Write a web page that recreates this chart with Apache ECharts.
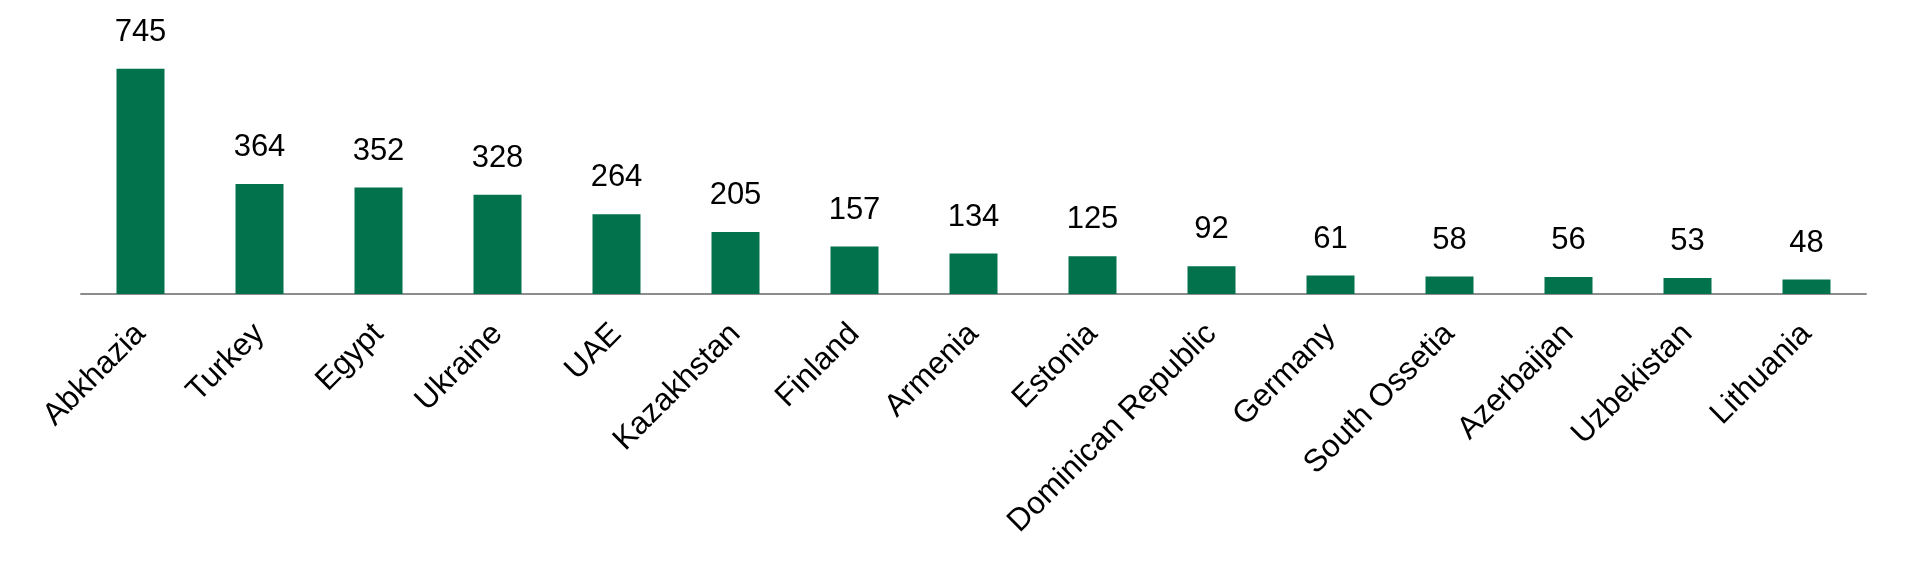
<!DOCTYPE html>
<html>
<head>
<meta charset="utf-8">
<script src="https://cdn.jsdelivr.net/npm/echarts@6/dist/echarts.min.js"></script>
<style>
html,body{margin:0;padding:0;background:#fff;}
#chart{width:1918px;height:570px;}
</style>
</head>
<body>
<div id="chart"></div>
<script>
const categories = ["Abkhazia","Turkey","Egypt","Ukraine","UAE","Kazakhstan","Finland","Armenia","Estonia","Dominican Republic","Germany","South Ossetia","Azerbaijan","Uzbekistan","Lithuania"];
const values = [745,364,352,328,264,205,157,134,125,92,61,58,56,53,48];

const chart = echarts.init(document.getElementById('chart'), null, {renderer:'canvas'});
chart.setOption({
  animation: false,
  backgroundColor: '#ffffff',
  grid: {left: 81, right: 52, top: 52, bottom: 276, containLabel: false},
  xAxis: {
    type: 'category',
    data: categories,
    axisLine: {show: true, lineStyle: {color: '#8c8c8c', width: 2}},
    axisTick: {show: false},
    axisLabel: {
      interval: 0,
      rotate: 45,
      margin: 35,
      color: '#000',
      fontFamily: 'Liberation Sans, Arial, sans-serif',
      fontSize: 31.5
    }
  },
  yAxis: {
    type: 'value',
    min: 0,
    max: 800,
    show: false,
    splitLine: {show: false}
  },
  series: [{
    type: 'bar',
    data: values,
    barWidth: 48,
    itemStyle: {color: '#02724c'},
    label: {
      show: true,
      position: 'top',
      distance: 21,
      color: '#000',
      fontFamily: 'Liberation Sans, Arial, sans-serif',
      fontSize: 31
    }
  }]
});
</script>
</body>
</html>
